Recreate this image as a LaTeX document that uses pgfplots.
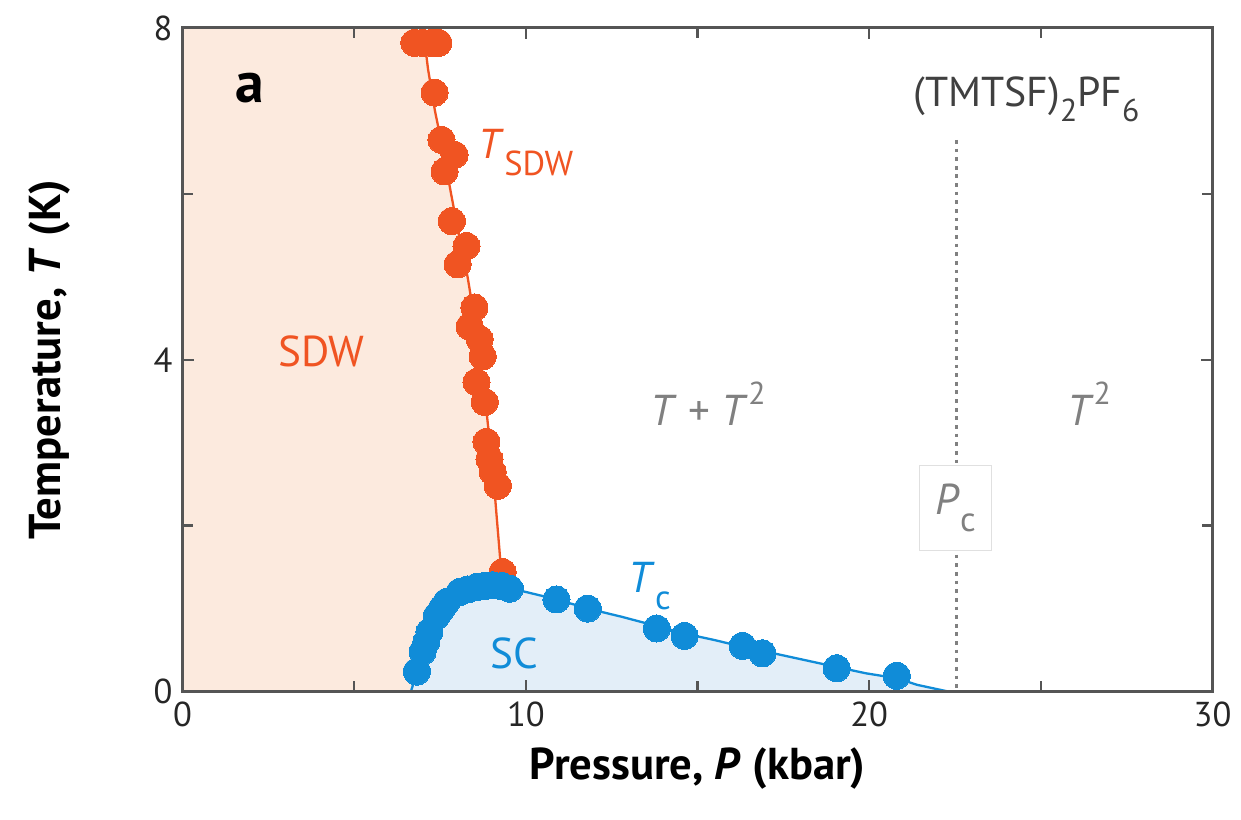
\documentclass[border=0pt]{standalone}
\usepackage{pgfplots}
\pgfplotsset{compat=1.18}
\usepackage{fontspec}
\setmainfont{PT Sans}
\definecolor{sdw}{RGB}{240,84,34}
\definecolor{sc}{RGB}{16,140,216}
\definecolor{sdwfill}{RGB}{252,234,222}
\definecolor{scfill}{RGB}{227,238,248}
\definecolor{txtgrey}{RGB}{128,128,128}
\definecolor{framec}{RGB}{85,85,85}
\begin{document}
\begin{tikzpicture}
\begin{axis}[
  scale only axis, width=357.6pt, height=230.4pt,
  xmin=0, xmax=30, ymin=0, ymax=8,
  xtick={0,10,20,30}, minor xtick={5,15,25},
  ytick={0,4,8}, minor ytick={2,6},
  tick align=inside, major tick length=4pt, minor tick length=3.5pt,
  axis line style={framec, line width=1pt},
  tick style={framec, line width=0.8pt},
  axis on top=true,
  /pgf/number format/assume math mode=true,
  tick label style={font=\fontsize{12}{12}\selectfont, text=black!85},
  xlabel={\bfseries Pressure, \textit{P} (kbar)},
  ylabel={\bfseries Temperature, \textit{T} (K)},
  label style={font=\fontsize{15.5}{16}\selectfont},
  xlabel style={at={(axis description cs:0.5,-0.116)}, anchor=center},
  ylabel style={at={(axis description cs:-0.129,0.5)}, anchor=center},
  clip=true,
]
% SDW region
\addplot[draw=none, fill=sdwfill] coordinates {
(0,0) (0,8) (7.0,8.0) (7.15,7.5) (7.35,7.0) (7.6,6.5) (7.82,6.0) (8.05,5.5) (8.3,5.0) (8.5,4.5) (8.67,4.0) (8.82,3.5) (8.95,3.0) (9.07,2.5) (9.17,2.0) (9.25,1.6) (9.3,1.3) (9.3,0)
} -- cycle;
% SC region
\addplot[draw=none, fill=scfill] coordinates {
(6.65,0) (6.8,0.2) (6.95,0.45) (7.15,0.7) (7.4,0.9) (7.75,1.07) (8.2,1.19) (8.8,1.26) (9.4,1.26) (10.0,1.2) (10.9,1.11) (11.8,1.0) (12.8,0.9) (13.8,0.79) (14.6,0.7) (15.5,0.62) (16.3,0.54) (17.0,0.48) (18.0,0.39) (19.0,0.3) (19.9,0.22) (20.8,0.16) (21.4,0.08) (22.3,0.0)
} \closedcycle;
% Pc line
\addplot[txtgrey, line width=1pt, dash pattern=on 1.3pt off 1.7pt] coordinates {(22.55,6.65) (22.55,0)};
% T_SDW line
\addplot[sdw, line width=0.8pt] coordinates {
(7.0,8.0) (7.15,7.5) (7.35,7.0) (7.6,6.5) (7.82,6.0) (8.05,5.5) (8.3,5.0) (8.5,4.5) (8.67,4.0) (8.82,3.5) (8.95,3.0) (9.07,2.5) (9.17,2.0) (9.25,1.6) (9.3,1.3)
};
% Tc line
\addplot[sc, line width=0.8pt] coordinates {
(6.65,0) (6.8,0.2) (6.95,0.45) (7.15,0.7) (7.4,0.9) (7.75,1.07) (8.2,1.19) (8.8,1.26) (9.4,1.26) (10.0,1.2) (10.9,1.11) (11.8,1.0) (12.8,0.9) (13.8,0.79) (14.6,0.7) (15.5,0.62) (16.3,0.54) (17.0,0.48) (18.0,0.39) (19.0,0.3) (19.9,0.22) (20.8,0.16) (21.4,0.08) (22.3,0.0)
};
% T_SDW points
\addplot[sdw, only marks, mark=*, mark size=4.7pt, mark options={fill=sdw, draw=sdw, line width=0pt}] table {
x y
6.75 7.82
7.00 7.82
7.25 7.82
7.45 7.82
7.34 7.22
7.54 6.65
7.92 6.47
7.63 6.27
7.84 5.67
8.27 5.37
8.01 5.15
8.50 4.63
8.36 4.40
8.65 4.25
8.74 4.04
8.56 3.73
8.80 3.49
8.85 3.01
8.94 2.80
9.03 2.65
9.18 2.48
9.32 1.44
};
% Tc points
\addplot[sc, only marks, mark=*, mark size=4.7pt, mark options={fill=sc, draw=sc, line width=0pt}] table {
x y
6.82 0.24
6.99 0.48
7.10 0.60
7.19 0.72
7.40 0.91
7.55 1.00
7.69 1.08
8.07 1.20
8.30 1.23
8.56 1.26
8.80 1.27
9.03 1.28
9.30 1.27
9.53 1.24
10.89 1.11
11.80 1.00
13.81 0.76
14.62 0.67
16.31 0.55
16.89 0.46
19.05 0.28
20.80 0.19
};
% annotations
\node[font=\bfseries\fontsize{20}{20}\selectfont] at (axis cs:1.95,7.27) {a};
\node[font=\fontsize{14.5}{15}\selectfont, text=black!75] at (axis cs:24.58,7.14) {(TMTSF)\raisebox{-0.35em}{\fontsize{11}{11}\selectfont 2}PF\raisebox{-0.35em}{\fontsize{11}{11}\selectfont 6}};
\node[font=\fontsize{14.5}{15}\selectfont, text=sdw] at (axis cs:10.0,6.5) {\textit{T}\raisebox{-0.4em}{\fontsize{12}{12}\selectfont SDW}};
\node[font=\fontsize{15}{15}\selectfont, text=sdw] at (axis cs:4.05,4.1) {SDW};
\node[font=\fontsize{15}{15}\selectfont, text=txtgrey] at (axis cs:15.3,3.47) {\textit{T} + \textit{T}\raisebox{0.5em}{\fontsize{11}{11}\selectfont 2}};
\node[font=\fontsize{15}{15}\selectfont, text=txtgrey] at (axis cs:26.4,3.47) {\textit{T}\raisebox{0.5em}{\fontsize{11}{11}\selectfont 2}};
\node[font=\fontsize{15}{15}\selectfont, text=sc] at (axis cs:13.6,1.27) {\textit{T}\raisebox{-0.4em}{\fontsize{12}{12}\selectfont c}};
\node[font=\fontsize{15}{15}\selectfont, text=sc] at (axis cs:9.67,0.46) {SC};
\node[draw=black!12, fill=white, text=txtgrey, font=\fontsize{15}{15}\selectfont, minimum width=25pt, minimum height=29.5pt, inner sep=1pt] at (axis cs:22.52,2.21) {\textit{P}\raisebox{-0.4em}{\fontsize{12}{12}\selectfont c}};
\end{axis}
\path (current axis.south west) ++(-63.4pt,-44.4pt) coordinate (bbSW);
\path (current axis.north east) ++(9pt,9.7pt) coordinate (bbNE);
\useasboundingbox (bbSW) rectangle (bbNE);
\end{tikzpicture}
\end{document}
